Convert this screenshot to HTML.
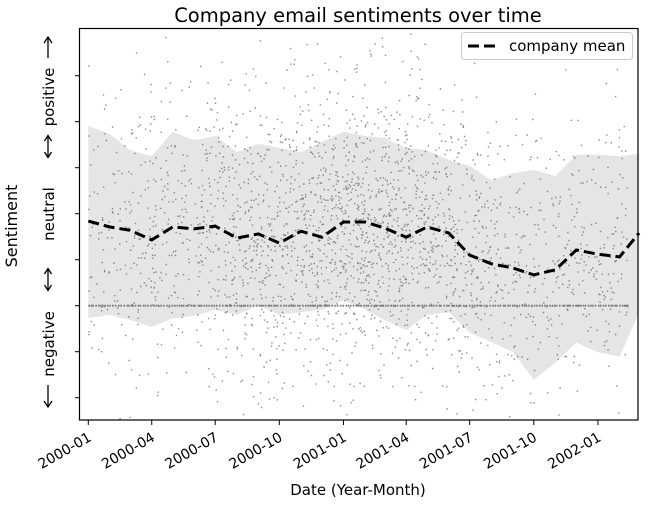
<!DOCTYPE html>
<html><head><meta charset="utf-8"><style>
body{margin:0;background:#fff}
svg{display:block;font-family:"DejaVu Sans","Liberation Sans",sans-serif}
</style></head><body>
<svg id="chart" width="648" height="505" viewBox="0 0 648 505">
<rect width="648" height="505" fill="#fff"/>
<g id="band-layer"></g>
<g id="dot-layer"></g>
<g id="line-layer"></g>
<rect x="79.5" y="28.5" width="558.5" height="391.5" fill="none" stroke="#000" stroke-width="1.2"/>
<g id="axes"></g>
<text x="358" y="22" font-size="19.5" text-anchor="middle">Company email sentiments over time</text>
<text x="358" y="495" font-size="15" text-anchor="middle">Date (Year-Month)</text>
<text transform="translate(17,226) rotate(-90)" font-size="16" text-anchor="middle">Sentiment</text>
<g font-size="15" text-anchor="middle">
<path d="M48,385V406M44,401L48,407L52,401" fill="none" stroke="#000" stroke-width="1.3"/>
<text transform="translate(54,344) rotate(-90)">negative</text>
<path d="M48,269V290M44.5,274L48,268.5L51.5,274M44.5,285L48,290.5L51.5,285" fill="none" stroke="#000" stroke-width="1.3"/>
<text transform="translate(54,214) rotate(-90)">neutral</text>
<path d="M48,136V157M44.5,141L48,135.5L51.5,141M44.5,152L48,157.5L51.5,152" fill="none" stroke="#000" stroke-width="1.3"/>
<text transform="translate(54,97) rotate(-90)">positive</text>
<path d="M48,37V58M44,43L48,37L52,43" fill="none" stroke="#000" stroke-width="1.3"/>
</g>
<g>
<rect x="461.5" y="32.5" width="171" height="27" rx="3" fill="#fff" fill-opacity="0.85" stroke="#ccc"/>
<line x1="468" y1="46" x2="500" y2="46" stroke="#000" stroke-width="3" stroke-dasharray="11,5"/>
<text x="509" y="51" font-size="15">company mean</text>
</g>
</svg>
<script>
const months = ["2000-01","2000-02","2000-03","2000-04","2000-05","2000-06","2000-07","2000-08","2000-09","2000-10","2000-11","2000-12","2001-01","2001-02","2001-03","2001-04","2001-05","2001-06","2001-07","2001-08","2001-09","2001-10","2001-11","2001-12","2002-01","2002-02","2002-03"];
const meanValues = [0.184,0.171,0.164,0.143,0.171,0.167,0.173,0.147,0.156,0.136,0.162,0.149,0.182,0.182,0.169,0.149,0.171,0.158,0.110,0.091,0.082,0.067,0.078,0.121,0.112,0.106,0.158];
const upperValues = [0.391,0.373,0.338,0.325,0.378,0.360,0.369,0.334,0.352,0.343,0.334,0.356,0.378,0.369,0.365,0.343,0.338,0.317,0.304,0.273,0.288,0.295,0.282,0.328,0.328,0.325,0.330];
const lowerValues = [-0.027,-0.020,-0.031,-0.046,-0.027,-0.022,-0.009,-0.020,0.001,-0.020,-0.014,-0.009,0.012,-0.009,-0.031,-0.053,-0.020,-0.014,-0.059,-0.079,-0.101,-0.161,-0.124,-0.080,-0.101,-0.111,-0.014];
const xTickLabels = ["2000-01","2000-04","2000-07","2000-10","2001-01","2001-04","2001-07","2001-10","2002-01"];
const yTicks = [-0.2,-0.1,0,0.1,0.2,0.3,0.4,0.5];

const NS="http://www.w3.org/2000/svg";
const day0 = Date.UTC(2000,0,1);
function dayOf(m){const [y,mo]=m.split("-").map(Number);return (Date.UTC(y,mo-1,1)-day0)/86400000;}
function xScale(m){return 88.3+dayOf(m)*0.6972;}
function yScale(v){return 305.7-v*460;}
function mk(tag,attrs,parent){const e=document.createElementNS(NS,tag);for(const k in attrs)e.setAttribute(k,attrs[k]);parent.appendChild(e);return e;}

let d="";
months.forEach((m,i)=>{d+=(i?"L":"M")+xScale(m).toFixed(1)+","+yScale(upperValues[i]).toFixed(1);});
for(let i=months.length-1;i>=0;i--) d+="L"+xScale(months[i]).toFixed(1)+","+yScale(lowerValues[i]).toFixed(1);
const band=mk("path",{d:d+"Z",fill:"#e5e5e5"},document.getElementById("band-layer"));



// scatter texture (deterministic, decorative)
const dl=document.getElementById("dot-layer");
let s=12345;function rnd(){s=(s*1103515245+12345)%2147483648;return s/2147483648;}
function gauss(){return Math.sqrt(-2*Math.log(rnd()+1e-9))*Math.cos(6.2832*rnd());}
let dots="";
const x0=xScale(months[0]), x1=xScale(months[months.length-1])-12;
for(let k=0;k<2600;k++){
  let t=rnd();
  if(rnd()<0.45) t=Math.min(1,Math.max(0,0.48+gauss()*0.16));
  const x=x0+t*(x1-x0);
  const i=Math.min(months.length-1,Math.round(t*(months.length-1)));
  const v=meanValues[i]+gauss()*0.16;
  const y=yScale(v);
  if(y<29||y>419)continue;
  dots+="M"+x.toFixed(1)+","+y.toFixed(1)+"h1.4";
}
const dp=mk("path",{d:dots,stroke:"#666","stroke-width":"1.4","stroke-opacity":"0.75"},dl);


let zd="";
for(let x=x0;x<x1;x+=1.5+rnd()*1.8) zd+="M"+x.toFixed(1)+","+yScale(0).toFixed(1)+"h1.6";
const zp=mk("path",{d:zd,stroke:"#777","stroke-width":"1.8"},dl);



const pts=months.map((m,i)=>xScale(m).toFixed(1)+","+yScale(meanValues[i]).toFixed(1)).join(" ");
const ml=mk("polyline",{points:pts,fill:"none",stroke:"#000","stroke-width":"3","stroke-dasharray":"11,5"},document.getElementById("line-layer"));



const ax=document.getElementById("axes");
xTickLabels.forEach(lb=>{
  const x=xScale(lb);
  const t=mk("line",{x1:x,y1:420,x2:x,y2:425,stroke:"#000"},ax);
  
  
  const tx=mk("text",{transform:`translate(${x+4},${440}) rotate(-30)`,"font-size":"14","text-anchor":"end"},ax);
  tx.textContent=lb;
  
  
});
yTicks.forEach(v=>{
  const y=yScale(v);
  const t=mk("line",{x1:75,y1:y,x2:79.5,y2:y,stroke:"#000"},ax);
  
  
});
</script>
</body></html>
